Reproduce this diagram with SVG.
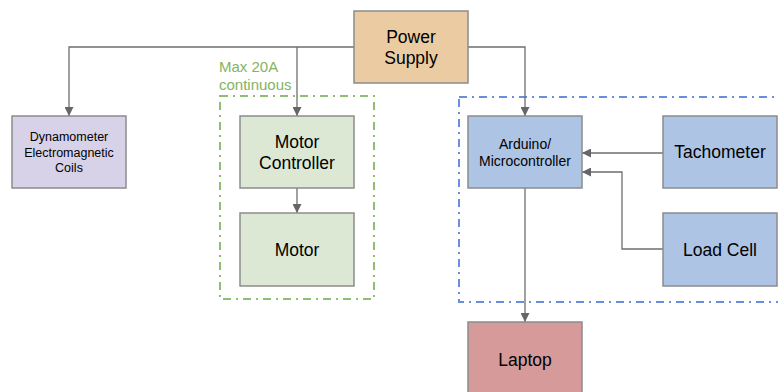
<svg xmlns="http://www.w3.org/2000/svg" width="778" height="392" viewBox="0 0 778 392">
  <defs>
    <marker id="arrow" viewBox="0 0 10 10" refX="10" refY="5" markerWidth="9" markerHeight="9" markerUnits="userSpaceOnUse" orient="auto">
      <path d="M0,0 L10,5 L0,10 z" fill="#666666"/>
    </marker>
    <style>
      text { font-family: "Liberation Sans", Arial, sans-serif; fill: #000000; text-anchor: middle; }
      .box { stroke: #8c8c8c; stroke-width: 1.5; }
      .edge { fill: none; stroke: #6e6e6e; stroke-width: 1.3; }
      .group { fill: none; stroke-width: 2; stroke-dasharray: 8 5 2 5; }
      .big { font-size: 17.5px; }
    </style>
  </defs>

  <!-- grouping frames -->
  <rect class="group" x="220" y="96" width="154" height="203" stroke="#8fbd72"/>
  <text x="219" y="72" font-size="15" fill="#84b363" style="text-anchor:start;fill:#84b363">Max 20A</text>
  <text x="219" y="89.5" font-size="15" style="text-anchor:start;fill:#84b363">continuous</text>
  <rect class="group" x="459" y="97" width="330" height="205" stroke="#6a8de0"/>

  <!-- connectors -->
  <g id="connectors">
    <path class="edge" d="M354,47 H69 V116" marker-end="url(#arrow)"/>
    <path class="edge" d="M297,47 V116" marker-end="url(#arrow)"/>
    <path class="edge" d="M468,47 H525 V116" marker-end="url(#arrow)"/>
    <path class="edge" d="M297,188 V213" marker-end="url(#arrow)"/>
    <path class="edge" d="M663,153 H582" marker-end="url(#arrow)"/>
    <path class="edge" d="M663,249 H622 V172 H582" marker-end="url(#arrow)"/>
    <path class="edge" d="M525,188 V322" marker-end="url(#arrow)"/>
  </g>

  <g id="power-supply">
    <rect class="box" x="354" y="11" width="114" height="72" fill="#ebcca2"/>
    <text class="big" x="411" y="43" font-size="17">Power</text>
    <text class="big" x="411" y="64" font-size="17">Supply</text>
  </g>

  <g id="dynamometer">
    <rect class="box" x="12" y="116" width="114" height="72" fill="#d8d2e8"/>
    <text x="69" y="141" font-size="12.5">Dynamometer</text>
    <text x="69" y="157" font-size="12.5">Electromagnetic</text>
    <text x="69" y="172" font-size="12.5">Coils</text>
  </g>

  <g id="motor-controller">
    <rect class="box" x="240" y="116" width="114" height="72" fill="#dce8d4"/>
    <text class="big" x="297" y="148">Motor</text>
    <text class="big" x="297" y="169">Controller</text>
  </g>

  <g id="motor">
    <rect class="box" x="240" y="213" width="114" height="73" fill="#dce8d4"/>
    <text class="big" x="297" y="256">Motor</text>
  </g>

  <g id="arduino">
    <rect class="box" x="468" y="116" width="114" height="72" fill="#aec4e5"/>
    <text x="525" y="149" font-size="14">Arduino/</text>
    <text x="525" y="166" font-size="14">Microcontroller</text>
  </g>

  <g id="tachometer">
    <rect class="box" x="663" y="116" width="114" height="72" fill="#aec4e5"/>
    <text class="big" x="720" y="158">Tachometer</text>
  </g>

  <g id="load-cell">
    <rect class="box" x="663" y="213" width="114" height="73" fill="#aec4e5"/>
    <text class="big" x="720" y="256">Load Cell</text>
  </g>

  <g id="laptop">
    <rect class="box" x="468" y="322" width="114" height="80" fill="#d59a99"/>
    <text class="big" x="525" y="366">Laptop</text>
  </g>
</svg>
